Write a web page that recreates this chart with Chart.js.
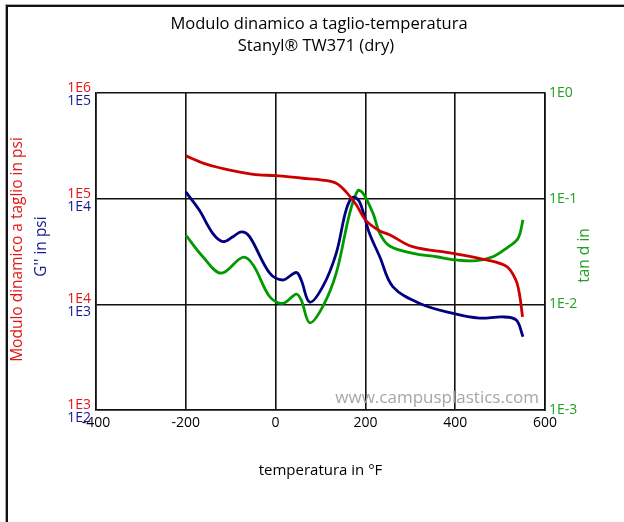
<!DOCTYPE html>
<html>
<head>
<meta charset="utf-8">
<script src="https://cdn.jsdelivr.net/npm/chart.js@4/dist/chart.umd.min.js"></script>
<style>
  html, body { margin: 0; padding: 0; background: #fff; }
  #wrap { position: relative; width: 624px; height: 522px; }
  #frame1 { position: absolute; left: 5px; top: 4px; right: 0; bottom: 0; border-left: 1px solid #aaa; border-top: 1px solid #aaa; }
  #frame2 { position: absolute; left: 6px; top: 5px; right: 0; bottom: 0; border-left: 2px solid #111; border-top: 2px solid #111; }
  canvas { position: absolute; left: 0; top: 0; }
</style>
</head>
<body>
<div id="wrap">
  <div id="frame1"></div>
  <div id="frame2"></div>
  <canvas id="c" width="624" height="522"></canvas>
</div>
<script>
// ---- Data ----
const titleLines = ["Modulo dinamico a taglio-temperatura", "Stanyl® TW371 (dry)"];
const xTitle = "temperatura in °F";
const leftTitleRed = "Modulo dinamico a taglio in psi";
const leftTitleBlue = "G'' in psi";
const rightTitle = "tan d in";
const watermark = "www.campusplastics.com";

const xTicks = [-400, -200, 0, 200, 400, 600];
const gPrimeTicks = [1e3, 1e4, 1e5, 1e6];
const gDoubleTicks = [1e2, 1e3, 1e4, 1e5];
const tanDTicks = [1e-3, 1e-2, 1e-1, 1e0];

// G' (storage modulus), psi
const gPrimeTemp = [-200, -160, -120, -50, 0, 60, 105, 135, 157, 180, 200, 230, 255, 305, 395, 470, 515, 535, 543, 550];
const gPrimeVal  = [254000, 216000, 194000, 170000, 165000, 156000, 150000, 140000, 116000, 87000, 63000, 50000, 45300, 35100, 30400, 26300, 22700, 17000, 12600, 7600];

// G'' (loss modulus), psi
const gDoubleTemp = [-200, -170, -140, -117, -95, -76, -58, -13, 16, 46, 57, 76, 105, 135, 157, 172, 187, 209, 232, 261, 321, 395, 454, 506, 536, 551];
const gDoubleVal  = [11600, 7800, 4700, 3920, 4370, 4860, 4370, 1970, 1700, 2000, 1700, 1050, 1470, 3040, 7800, 10300, 9330, 4700, 2820, 1470, 1020, 820, 740, 760, 710, 494];

// tan delta
const tanDTemp = [-200, -162, -121, -73, -50, -13, 16, 46, 57, 76, 105, 135, 165, 183, 195, 217, 232, 254, 306, 358, 403, 447, 484, 514, 540, 551];
const tanDVal  = [0.0453, 0.0282, 0.0197, 0.0279, 0.0236, 0.0118, 0.0102, 0.0125, 0.0110, 0.0067, 0.0095, 0.0197, 0.0726, 0.119, 0.112, 0.0726, 0.047, 0.0356, 0.0304, 0.0282, 0.0263, 0.0259, 0.0282, 0.0339, 0.0422, 0.063];

const RED = '#cc0000', BLUE = '#000080', GREEN = '#009900';
const RED_T = '#e01818', BLUE_T = '#1a1a90', GREEN_T = '#22a022';
const FONT = "'Open Sans', 'Noto Sans', sans-serif";

const pts = (xs, ys) => xs.map((x, i) => ({ x: x, y: ys[i] }));
const expLabel = v => '1E' + Math.round(Math.log10(v));

const overlay = {
  id: 'overlay',
  beforeDatasetsDraw(chart) {
    const ctx = chart.ctx;
    ctx.save();
    ctx.font = "17px " + FONT;
    ctx.fillStyle = '#a6a6a6';
    ctx.textAlign = 'right';
    ctx.textBaseline = 'alphabetic';
    ctx.fillText(watermark, 539, 403);
    ctx.restore();
  },
  afterDraw(chart) {
    const ctx = chart.ctx;
    const a = chart.chartArea;
    ctx.save();
    // blue G'' tick labels, placed through the y2 scale
    const s2 = chart.scales.y2;
    ctx.font = "14px " + FONT;
    ctx.fillStyle = BLUE_T;
    ctx.textAlign = 'right';
    ctx.textBaseline = 'middle';
    gDoubleTicks.forEach(v => ctx.fillText(expLabel(v), a.left - 5, s2.getPixelForValue(v) + 8));
    // main title
    ctx.fillStyle = '#000';
    ctx.font = "16.5px " + FONT;
    ctx.textAlign = 'center';
    ctx.fillText(titleLines[0], 319, 24);
    ctx.fillText(titleLines[1], 316, 46);
    // left titles (rotated)
    const midY = (a.top + a.bottom) / 2;
    ctx.font = "15.5px " + FONT;
    ctx.save();
    ctx.translate(18, midY - 2);
    ctx.rotate(-Math.PI / 2);
    ctx.fillStyle = RED_T;
    ctx.fillText(leftTitleRed, 0, 0);
    ctx.restore();
    ctx.save();
    ctx.translate(42, midY - 5);
    ctx.rotate(-Math.PI / 2);
    ctx.fillStyle = BLUE_T;
    ctx.fillText(leftTitleBlue, 0, 0);
    ctx.restore();
    ctx.save();
    ctx.translate(585, midY + 4);
    ctx.rotate(-Math.PI / 2);
    ctx.fillStyle = GREEN_T;
    ctx.fillText(rightTitle, 0, 0);
    ctx.restore();
    ctx.restore();
  }
};

const decadeTicks = list => function(scale) { scale.ticks = list.map(v => ({ value: v })); };

const lineStyle = { borderWidth: 2.8, pointRadius: 0, tension: 0.35, fill: false };

new Chart(document.getElementById('c'), {
  type: 'line',
  data: {
    datasets: [
      Object.assign({ label: "G'", data: pts(gPrimeTemp, gPrimeVal), yAxisID: 'y', borderColor: RED }, lineStyle),
      Object.assign({ label: "G''", data: pts(gDoubleTemp, gDoubleVal), yAxisID: 'y2', borderColor: BLUE }, lineStyle),
      Object.assign({ label: "tan d", data: pts(tanDTemp, tanDVal), yAxisID: 'y3', borderColor: GREEN }, lineStyle)
    ]
  },
  options: {
    responsive: false,
    animation: false,
    layout: { padding: { top: 93, left: 0, right: 0, bottom: 0 } },
    plugins: { legend: { display: false }, title: { display: false }, tooltip: { enabled: false } },
    scales: {
      x: {
        type: 'linear', position: 'bottom', min: -400, max: 600,
        afterBuildTicks: decadeTicks(xTicks),
        afterFit(s) { s.height = 112; },
        grid: { color: '#111', lineWidth: 1.6, drawTicks: false },
        border: { color: '#111', width: 1.6 },
        ticks: { color: '#000', font: { size: 14, family: FONT }, padding: 5, maxRotation: 0, autoSkip: false, callback: v => String(v) },
        title: { display: true, text: xTitle, color: '#000', font: { size: 15, family: FONT }, padding: { top: 0, bottom: 42 } }
      },
      y: {
        type: 'logarithmic', position: 'left', min: 1e3, max: 1e6,
        afterBuildTicks: decadeTicks(gPrimeTicks),
        afterFit(s) { s.width = 96; },
        grid: { color: '#111', lineWidth: 1.6, drawTicks: false },
        border: { color: '#111', width: 1.6 },
        ticks: { color: RED_T, font: { size: 14, family: FONT }, padding: 5, labelOffset: -5, autoSkip: false, callback: v => expLabel(v) }
      },
      y2: {
        type: 'logarithmic', display: false, min: 1e2, max: 1e5,
        afterBuildTicks: decadeTicks(gDoubleTicks)
      },
      y3: {
        type: 'logarithmic', position: 'right', min: 1e-3, max: 1e0,
        afterBuildTicks: decadeTicks(tanDTicks),
        afterFit(s) { s.width = 79; },
        grid: { display: false, drawTicks: false },
        border: { color: '#111', width: 1.6 },
        ticks: { color: GREEN_T, font: { size: 14, family: FONT }, padding: 4, autoSkip: false, callback: v => expLabel(v) }
      }
    }
  },
  plugins: [overlay]
});
</script>
</body>
</html>
